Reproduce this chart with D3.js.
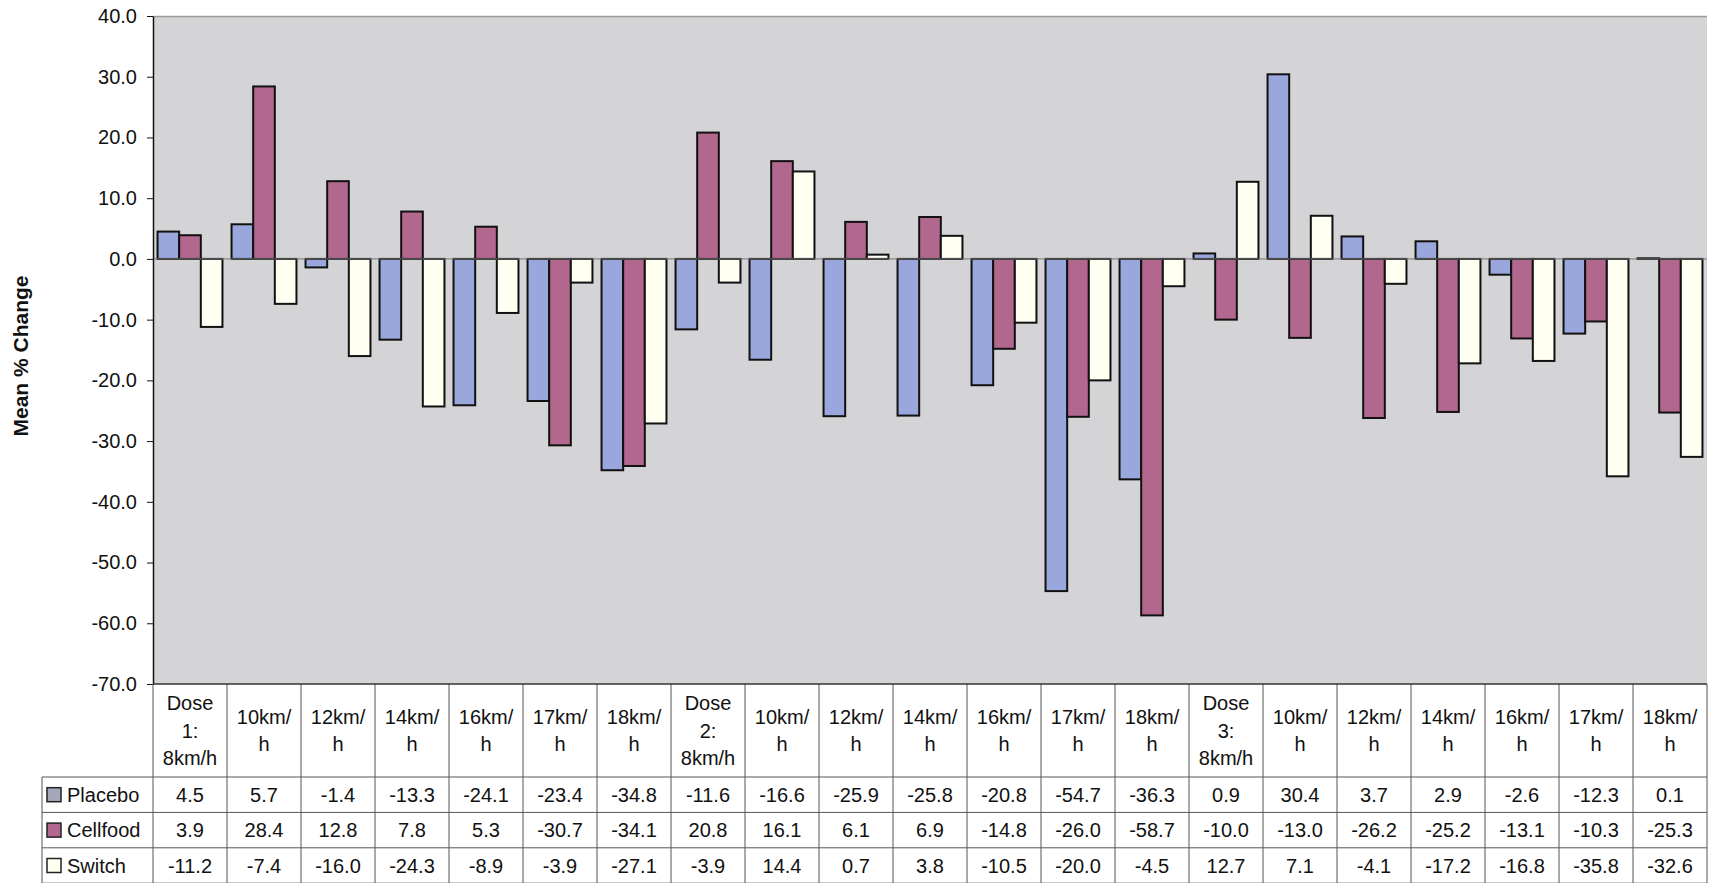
<!DOCTYPE html>
<html>
<head>
<meta charset="utf-8">
<script src="https://cdn.jsdelivr.net/npm/d3@7"></script>
<style>
  html, body { margin: 0; padding: 0; background: #fff; }
  svg { display: block; font-family: "Liberation Sans", Arial, sans-serif; }
</style>
</head>
<body>
<svg id="chart" width="1709" height="883"></svg>
<script>
// Speed stages (header cells of the data table, wrapped as in the sheet)
const categories = [
  "Dose\n1:\n8km/h", "10km/\nh", "12km/\nh", "14km/\nh", "16km/\nh", "17km/\nh", "18km/\nh",
  "Dose\n2:\n8km/h", "10km/\nh", "12km/\nh", "14km/\nh", "16km/\nh", "17km/\nh", "18km/\nh",
  "Dose\n3:\n8km/h", "10km/\nh", "12km/\nh", "14km/\nh", "16km/\nh", "17km/\nh", "18km/\nh"
];
const seriesNames = ["Placebo", "Cellfood", "Switch"];
const placebo  = [4.5, 5.7, -1.4, -13.3, -24.1, -23.4, -34.8, -11.6, -16.6, -25.9, -25.8, -20.8, -54.7, -36.3, 0.9, 30.4, 3.7, 2.9, -2.6, -12.3, 0.1];
const cellfood = [3.9, 28.4, 12.8, 7.8, 5.3, -30.7, -34.1, 20.8, 16.1, 6.1, 6.9, -14.8, -26.0, -58.7, -10.0, -13.0, -26.2, -25.2, -13.1, -10.3, -25.3];
const switchG  = [-11.2, -7.4, -16.0, -24.3, -8.9, -3.9, -27.1, -3.9, 14.4, 0.7, 3.8, -10.5, -20.0, -4.5, 12.7, 7.1, -4.1, -17.2, -16.8, -35.8, -32.6];
const yTicks = [40, 30, 20, 10, 0, -10, -20, -30, -40, -50, -60, -70];
const colors = ["#99a7dc", "#b2678e", "#fffff2"];

const series = [placebo, cellfood, switchG];

// one decimal, plain hyphen for negatives
const fmt = v => d3.format(".1f")(v).replace("\u2212", "-");

const svg = d3.select("#chart");
const plot = { left: 153, right: 1707, top: 16, bottom: 684 };
const table = { legendLeft: 42, headerBottom: 777, rowH: 35.4 };

const y = d3.scaleLinear().domain([-70, 40]).range([plot.bottom, plot.top]);
const idx = d3.range(categories.length);
const x0 = d3.scaleBand().domain(idx).range([plot.left, plot.right]).padding(0);
const x1 = d3.scaleBand().domain(d3.range(series.length))
  .range([0, x0.bandwidth()]).paddingInner(0).paddingOuter(0.21);

// plot area
svg.append("rect")
  .attr("x", plot.left).attr("y", plot.top)
  .attr("width", plot.right - plot.left).attr("height", plot.bottom - plot.top)
  .attr("fill", "#d4d4d7");
svg.append("line")
  .attr("x1", plot.left).attr("x2", plot.right)
  .attr("y1", plot.top + 0.5).attr("y2", plot.top + 0.5)
  .attr("stroke", "#9a9a9a").attr("stroke-width", 1.5);

// bars
series.forEach((vals, s) => {
  svg.append("g").selectAll("rect").data(vals).join("rect")
    .attr("x", (d, i) => x0(i) + x1(s))
    .attr("y", d => y(Math.max(0, d)))
    .attr("width", x1.bandwidth())
    .attr("height", d => Math.abs(y(d) - y(0)))
    .attr("fill", colors[s])
    .attr("stroke", "#111")
    .attr("stroke-width", 2);
});

// zero line
svg.append("line")
  .attr("x1", plot.left).attr("x2", plot.right)
  .attr("y1", y(0)).attr("y2", y(0))
  .attr("stroke", "#777").attr("stroke-width", 1);

// value axis
const yAxis = d3.axisLeft(y).tickValues(yTicks).tickFormat(fmt)
  .tickSizeInner(6).tickSizeOuter(0).tickPadding(10);
const gy = svg.append("g").attr("transform", `translate(${plot.left},0)`).call(yAxis);
gy.select(".domain").attr("stroke", "#111").attr("stroke-width", 1.5);
gy.selectAll(".tick line").attr("stroke", "#111");
gy.selectAll(".tick text").attr("font-size", 20).attr("fill", "#111")
  .attr("font-family", "Liberation Sans, Arial, sans-serif");

// axis title
svg.append("text")
  .attr("transform", `translate(28,${(plot.top + plot.bottom) / 2 + 6}) rotate(-90)`)
  .attr("text-anchor", "middle")
  .attr("font-size", 21).attr("font-weight", "bold").attr("fill", "#111")
  .text("Mean % Change");

// data table
const tg = svg.append("g");
const lineC = "#555";
const rowsTop = table.headerBottom;
const tableBottom = rowsTop + table.rowH * 3;

// header text
idx.forEach(i => {
  const lines = categories[i].split("\n");
  const cx = x0(i) + x0.bandwidth() / 2;
  const cy = (plot.bottom + table.headerBottom) / 2;
  const lh = 27.5;
  lines.forEach((ln, k) => {
    tg.append("text")
      .attr("x", cx)
      .attr("y", cy + (k - (lines.length - 1) / 2) * lh + 7)
      .attr("text-anchor", "middle")
      .attr("font-size", 20).attr("fill", "#111")
      .text(ln);
  });
});

// value rows with legend keys
series.forEach((vals, s) => {
  const ry = rowsTop + table.rowH * s;
  const cy = ry + table.rowH / 2;
  tg.append("rect")
    .attr("x", 47).attr("y", cy - 7).attr("width", 14).attr("height", 14)
    .attr("fill", s === 0 ? "#a4a8b8" : colors[s]).attr("stroke", "#222").attr("stroke-width", 1.5);
  tg.append("text")
    .attr("x", 67).attr("y", cy + 7)
    .attr("font-size", 20).attr("fill", "#111")
    .text(seriesNames[s]);
  vals.forEach((v, i) => {
    tg.append("text")
      .attr("x", x0(i) + x0.bandwidth() / 2).attr("y", cy + 7)
      .attr("text-anchor", "middle")
      .attr("font-size", 20).attr("fill", "#111")
      .text(fmt(v));
  });
});

// grid lines of the table
// vertical separators
d3.range(categories.length + 1).forEach(i => {
  const xx = i < categories.length ? x0(i) : plot.right;
  tg.append("line")
    .attr("x1", xx).attr("x2", xx)
    .attr("y1", plot.bottom).attr("y2", tableBottom)
    .attr("stroke", lineC).attr("stroke-width", 1);
});
tg.append("line")
  .attr("x1", table.legendLeft).attr("x2", table.legendLeft)
  .attr("y1", rowsTop).attr("y2", tableBottom)
  .attr("stroke", lineC).attr("stroke-width", 1);
// horizontal separators
[0, 1, 2, 3].forEach(k => {
  const yy = rowsTop + table.rowH * k;
  tg.append("line")
    .attr("x1", table.legendLeft).attr("x2", plot.right)
    .attr("y1", yy).attr("y2", yy)
    .attr("stroke", lineC).attr("stroke-width", 1);
});
tg.append("line")
  .attr("x1", plot.left).attr("x2", plot.right)
  .attr("y1", plot.bottom).attr("y2", plot.bottom)
  .attr("stroke", "#333").attr("stroke-width", 1.5);
</script>
</body>
</html>
